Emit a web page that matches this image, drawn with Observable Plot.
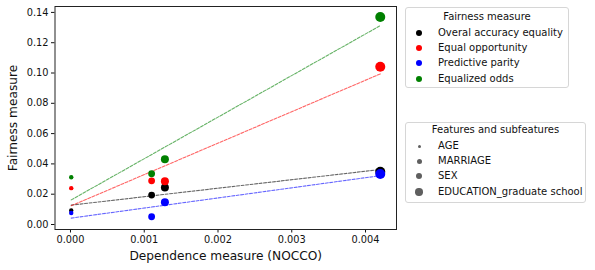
<!DOCTYPE html>
<html>
<head>
<meta charset="utf-8">
<script src="https://cdn.jsdelivr.net/npm/d3@7"></script>
<script src="https://cdn.jsdelivr.net/npm/@observablehq/plot@0.6"></script>
<style>
  body { margin: 0; background: #fff; font-family: "DejaVu Sans", sans-serif; }
  #wrap { position: relative; width: 595px; height: 270px; overflow: hidden; }
  #chart { position: absolute; left: 0; top: 0; }
  .legend { position: absolute; border: 1px solid #d6d6d6; border-radius: 3px; background: #fff; box-sizing: border-box; }
  .ltitle { position: absolute; left: 0; right: 0; text-align: center; font-size: 10px; line-height: 12px; color: #111; white-space: nowrap; }
  .litem { position: absolute; left: 0; font-size: 10px; line-height: 12px; color: #111; white-space: nowrap; }
  .mk { position: absolute; border-radius: 50%; }
  .lt { position: absolute; left: 32px; top: 0; }
</style>
</head>
<body>
<div id="wrap">
  <div id="chart"></div>
  <div id="leg1" class="legend" style="left:405px; top:7px; width:164px; height:81px;"></div>
  <div id="leg2" class="legend" style="left:405px; top:122px; width:181px; height:81px;"></div>
</div>
<script>
// ---- data ----
const features = ["AGE", "MARRIAGE", "SEX", "EDUCATION_graduate school"];
const nocco = [0.00001, 0.0011, 0.00128, 0.0042];
const measures = ["Overal accuracy equality", "Equal opportunity", "Predictive parity", "Equalized odds"];
const measureColors = ["black", "red", "blue", "green"];
const overallAccuracyEquality = [0.0093, 0.0194, 0.0244, 0.0348];
const equalOpportunity = [0.0240, 0.0288, 0.0286, 0.1041];
const predictiveParity = [0.0076, 0.0051, 0.0147, 0.0333];
const equalizedOdds = [0.0312, 0.0335, 0.0431, 0.1370];
const xTicks = [0, 0.001, 0.002, 0.003, 0.004];
const yTicks = [0, 0.02, 0.04, 0.06, 0.08, 0.10, 0.12, 0.14];

const series = [overallAccuracyEquality, equalOpportunity, predictiveParity, equalizedOdds];
const rows = [];
measures.forEach((m, i) => {
  features.forEach((f, j) => {
    rows.push({measure: m, feature: f, x: nocco[j], y: series[i][j]});
  });
});

const dotRadius = {"AGE": 2.2, "MARRIAGE": 3.4, "SEX": 4.0, "EDUCATION_graduate school": 5.0};
const legendRadius = {"AGE": 1.5, "MARRIAGE": 2.5, "SEX": 3.1, "EDUCATION_graduate school": 3.7};

const plot = Plot.plot({
  width: 400,
  height: 270,
  marginLeft: 54.5,
  marginRight: 4,
  marginTop: 6,
  marginBottom: 41,
  style: {fontFamily: "DejaVu Sans, sans-serif", fontSize: "9.8px", color: "#111", background: "white"},
  x: {domain: [-0.00021, 0.00442], ticks: xTicks, tickFormat: d3.format(".3f"), label: null},
  y: {domain: [-0.0033, 0.1439], ticks: yTicks, tickFormat: d3.format(".2f"), label: null},
  color: {domain: measures, range: measureColors},
  r: {type: "identity"},
  marks: [
    Plot.linearRegressionY(rows, {x: "x", y: "y", stroke: "measure", ci: 0, strokeDasharray: "3,1.5", strokeWidth: 1.1, strokeOpacity: 0.6}),
    Plot.dot(rows, {x: "x", y: "y", fill: "measure", r: d => dotRadius[d.feature], stroke: null}),
    Plot.axisX({ticks: xTicks, tickFormat: d3.format(".3f"), tickSize: 3.5, tickPadding: 3, label: null, fontSize: 9.8}),
    Plot.axisY({ticks: yTicks, tickFormat: d3.format(".2f"), tickSize: 3.5, tickPadding: 3, label: null, fontSize: 9.8}),
    Plot.frame({stroke: "#222", strokeWidth: 1}),
    Plot.text(["Dependence measure (NOCCO)"], {frameAnchor: "bottom", dy: 27, textAnchor: "middle", lineAnchor: "middle", fontSize: 12.2, fill: "#111"}),
    Plot.text(["Fairness measure"], {frameAnchor: "left", dx: -42, rotate: -90, textAnchor: "middle", lineAnchor: "middle", fontSize: 12.2, fill: "#111"})
  ]
});
document.getElementById("chart").appendChild(plot);

// ---- legends ----
function buildLegend(el, title, titleTop, items, itemTops) {
  const t = document.createElement("div");
  t.className = "ltitle";
  t.style.top = titleTop + "px";
  t.textContent = title;
  el.appendChild(t);
  items.forEach((it, i) => {
    const row = document.createElement("div");
    row.className = "litem";
    row.style.top = itemTops[i] + "px";
    row.style.width = "100%";
    row.style.height = "12px";
    const mk = document.createElement("span");
    mk.className = "mk";
    mk.style.width = (2 * it.r) + "px";
    mk.style.height = (2 * it.r) + "px";
    mk.style.left = (13 - it.r) + "px";
    mk.style.top = (6 - it.r) + "px";
    mk.style.background = it.color;
    row.appendChild(mk);
    const lt = document.createElement("span");
    lt.className = "lt";
    lt.textContent = it.label;
    row.appendChild(lt);
    el.appendChild(row);
  });
}
buildLegend(document.getElementById("leg1"), "Fairness measure", 3,
  measures.map((m, i) => ({label: m, color: measureColors[i], r: 3})),
  [19, 34, 49, 65]);
buildLegend(document.getElementById("leg2"), "Features and subfeatures", 1,
  features.map(f => ({label: f, color: "#5f5f5f", r: legendRadius[f]})),
  [17, 32, 47, 63]);
</script>
</body>
</html>
